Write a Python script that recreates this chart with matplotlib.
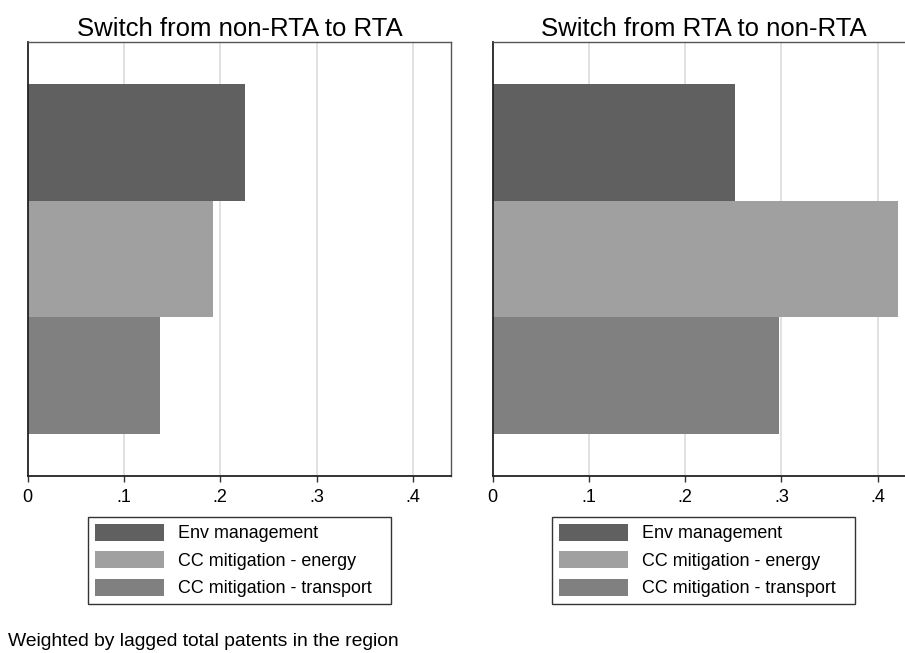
import numpy as np
import matplotlib
matplotlib.use("Agg")
import matplotlib.pyplot as plt
from matplotlib.patches import Patch

plt.rcParams['font.family'] = ['Liberation Sans', 'DejaVu Sans']

categories = ['Env management', 'CC mitigation - energy', 'CC mitigation - transport']
colors = ['#606060', '#a0a0a0', '#808080']
titles = ['Switch from non-RTA to RTA', 'Switch from RTA to non-RTA']
non_rta_to_rta = [0.2257, 0.1924, 0.1374]
rta_to_non_rta = [0.2516, 0.4206, 0.2972]
xticks = [0, 0.1, 0.2, 0.3, 0.4]
xtick_labels = ['0', '.1', '.2', '.3', '.4']

W, H = 905, 653
fig = plt.figure(figsize=(W / 100, H / 100), dpi=100)

def px_axes(x0, x1, y0, y1):
    # pixel box -> figure fraction
    return fig.add_axes([x0 / W, 1 - y1 / H, (x1 - x0) / W, (y1 - y0) / H])

panels = [
    (px_axes(27.7, 451, 42, 476), non_rta_to_rta, titles[0], (88, 517, 391, 606)),
    (px_axes(492.5, 915.8, 42, 476), rta_to_non_rta, titles[1], (552, 517, 855, 606)),
]

for ax, values, title, leg_box in panels:
    ypos = np.arange(len(categories))
    ax.barh(ypos, values, height=1.0, color=colors, edgecolor='none', zorder=2)
    ax.set_ylim(len(categories) - 1 + 0.855, -0.855)
    ax.set_xlim(0, 0.4396)
    ax.set_xticks(xticks)
    ax.set_xticklabels(xtick_labels, fontsize=13)
    ax.set_yticks([])
    for t in xticks[1:]:
        ax.axvline(t, color='#dcdcdc', lw=1.2, zorder=1)
    ax.tick_params(axis='x', length=4, width=1, color='#333333', pad=5)
    for side in ['top', 'right']:
        ax.spines[side].set_color('#555555')
        ax.spines[side].set_linewidth(1)
    for side in ['left', 'bottom']:
        ax.spines[side].set_color('#222222')
        ax.spines[side].set_linewidth(1.3)
    ax.set_title(title, fontsize=18.5, pad=4)

    handles = [Patch(facecolor=c, edgecolor='none') for c in colors]
    lx0, ly0, lx1, ly1 = leg_box
    leg = fig.legend(handles, categories, loc='upper left',
                     bbox_to_anchor=(lx0 / W, 1 - ly1 / H, (lx1 - lx0) / W, (ly1 - ly0) / H),
                     mode='expand', fontsize=12.9, frameon=True, fancybox=False,
                     handlelength=3.85, handleheight=1.06, handletextpad=0.78,
                     labelspacing=0.5, borderpad=0.39, borderaxespad=0)
    leg.get_frame().set_edgecolor('black')
    leg.get_frame().set_linewidth(1)

fig.text(8 / W, 1 - 641 / H, 'Weighted by lagged total patents in the region',
         fontsize=13.9, va='center', ha='left')

fig.savefig('out.png', dpi=100)
